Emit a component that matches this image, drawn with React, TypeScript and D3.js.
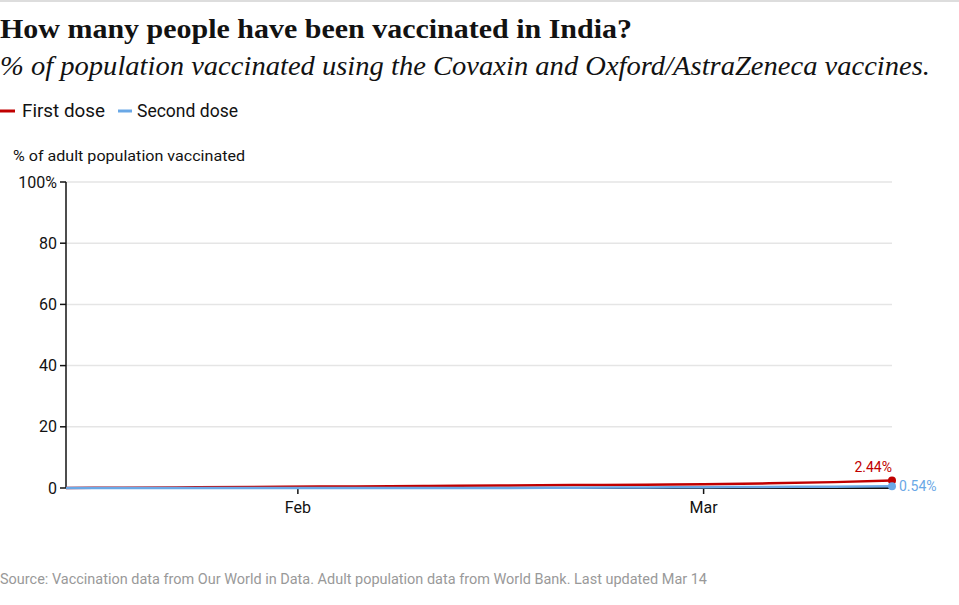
import React from "react";
import * as d3 from "d3";

const firstDates = ["2021-01-16","2021-01-20","2021-01-25","2021-01-31","2021-02-05","2021-02-10","2021-02-15","2021-02-20","2021-02-25","2021-03-01","2021-03-05","2021-03-10","2021-03-14"];
const firstValues = [0.02,0.08,0.22,0.40,0.53,0.68,0.84,0.97,1.08,1.20,1.48,1.92,2.44];
const secondDates = ["2021-01-16","2021-02-12","2021-02-15","2021-02-20","2021-02-25","2021-03-01","2021-03-05","2021-03-10","2021-03-14"];
const secondValues = [0,0,0.03,0.10,0.18,0.25,0.33,0.43,0.54];
const yTicks = [0,20,40,60,80,100];
const xTickDates = ["2021-02-01","2021-03-01"];
const xTickLabels = ["Feb","Mar"];

const RED = "#c00000";
const BLUE = "#6aa8e6";

export default function App() {
  const W = 959, H = 605;
  const x0 = 66, x1 = 892, yTop = 182, yBot = 488;
  const parse = d3.utcParse("%Y-%m-%d");
  const x = d3.scaleUtc().domain([parse("2021-01-16")!, parse("2021-03-14")!]).range([x0, x1]);
  const y = d3.scaleLinear().domain([0, 100]).range([yBot, yTop]);
  const first = firstDates.map((d, i) => ({ d: parse(d)!, v: firstValues[i] }));
  const second = secondDates.map((d, i) => ({ d: parse(d)!, v: secondValues[i] }));
  const line = d3.line<{ d: Date; v: number }>().x(p => x(p.d)).y(p => y(p.v)).curve(d3.curveMonotoneX);
  const lf = first[first.length - 1];
  const ls = second[second.length - 1];
  const sans = "Roboto, 'DejaVu Sans', sans-serif";
  return (
    <svg width={W} height={H} style={{ position: "absolute", left: 0, top: 0, background: "#fff" }}>
      <rect x={0} y={0} width={W} height={2} fill="#dddddd" />
      <text x={0} y={38} fontFamily="'Liberation Serif', serif" fontWeight="bold" fontSize={27} fill="#121212" textLength={632} lengthAdjust="spacingAndGlyphs">How many people have been vaccinated in India?</text>
      <text x={0} y={75} fontFamily="'Liberation Serif', serif" fontStyle="italic" fontSize={27} fill="#121212" textLength={930} lengthAdjust="spacingAndGlyphs">% of population vaccinated using the Covaxin and Oxford/AstraZeneca vaccines.</text>
      <line x1={0} x2={15} y1={111} y2={111} stroke={RED} strokeWidth={3} />
      <text x={22} y={117} fontFamily={sans} fontSize={18} fill="#121212" textLength={83} lengthAdjust="spacingAndGlyphs">First dose</text>
      <line x1={118} x2={132} y1={111} y2={111} stroke={BLUE} strokeWidth={3} />
      <text x={137} y={117} fontFamily={sans} fontSize={18} fill="#121212" textLength={101} lengthAdjust="spacingAndGlyphs">Second dose</text>
      <text x={13} y={161} fontFamily={sans} fontSize={15} fill="#121212" textLength={232} lengthAdjust="spacingAndGlyphs">% of adult population vaccinated</text>
      {yTicks.map(t => (
        <g key={t}>
          {t > 0 && <line x1={x0} x2={x1} y1={y(t)} y2={y(t)} stroke="#e5e5e5" strokeWidth={1.5} />}
          <line x1={x0 - 6} x2={x0} y1={y(t)} y2={y(t)} stroke="#121212" strokeWidth={1.5} />
          <text x={x0 - 9} y={y(t)} dy="0.35em" textAnchor="end" fontFamily={sans} fontSize={16} fill="#121212">{t === 100 ? "100%" : t}</text>
        </g>
      ))}
      {xTickDates.map((d, i) => (
        <g key={d}>
          <line x1={x(parse(d)!)} x2={x(parse(d)!)} y1={yBot} y2={yBot + 6} stroke="#121212" strokeWidth={1.5} />
          <text x={x(parse(d)!)} y={513} textAnchor="middle" fontFamily={sans} fontSize={16} fill="#121212">{xTickLabels[i]}</text>
        </g>
      ))}
      <line x1={x0} x2={x0} y1={yTop} y2={yBot} stroke="#121212" strokeWidth={1.5} />
      <line x1={x0} x2={x1} y1={yBot} y2={yBot} stroke="#121212" strokeWidth={2} />
      <path d={line(first) || ""} fill="none" stroke={RED} strokeWidth={2.5} />
      <path d={line(second) || ""} fill="none" stroke={BLUE} strokeWidth={2.5} />
      <circle cx={x(lf.d)} cy={y(lf.v)} r={4} fill={RED} />
      <circle cx={x(ls.d)} cy={y(ls.v)} r={4} fill={BLUE} />
      <text x={x(lf.d)} y={y(lf.v) - 9} textAnchor="end" fontFamily={sans} fontSize={14} fill={RED}>{lf.v.toFixed(2)}%</text>
      <text x={x(ls.d) + 7} y={y(ls.v)} dy="0.35em" fontFamily={sans} fontSize={14} fill={BLUE}>{ls.v.toFixed(2)}%</text>
      <text x={0} y={584} fontFamily={sans} fontSize={14} fill="#999999" textLength={707} lengthAdjust="spacingAndGlyphs">Source: Vaccination data from Our World in Data. Adult population data from World Bank. Last updated Mar 14</text>
    </svg>
  );
}
